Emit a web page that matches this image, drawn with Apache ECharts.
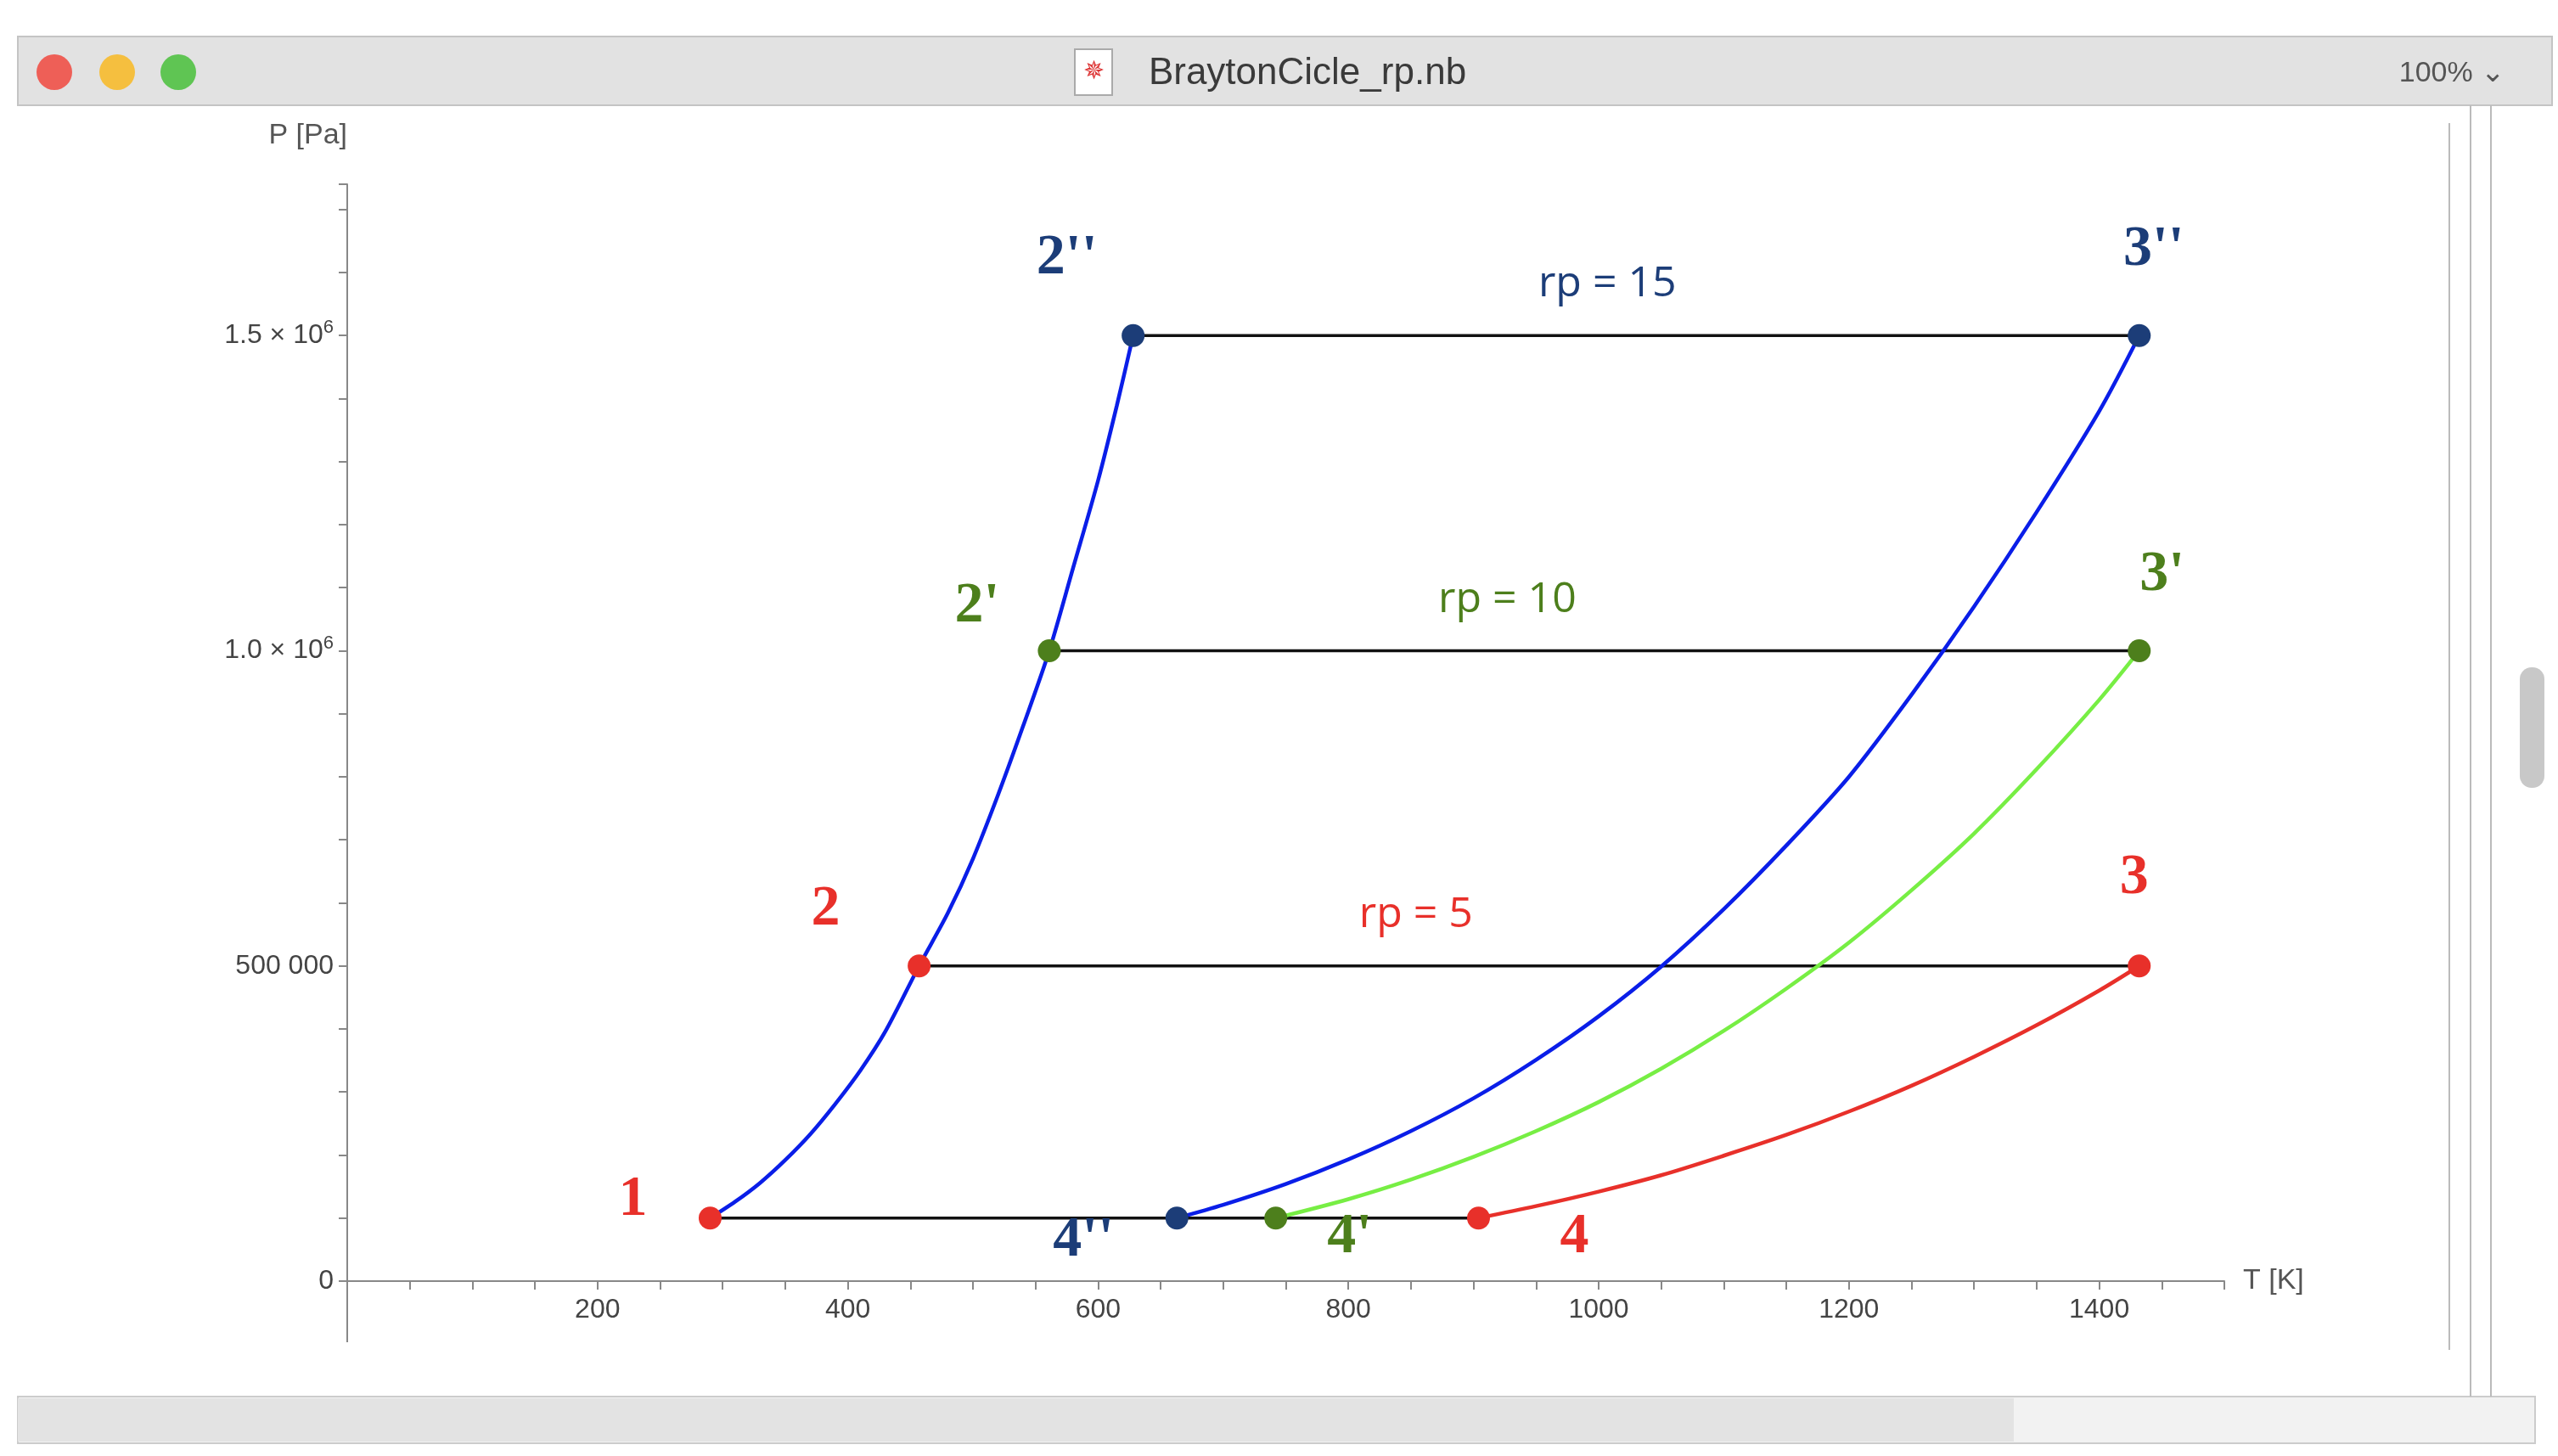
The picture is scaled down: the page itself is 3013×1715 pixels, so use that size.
<!DOCTYPE html>
<html><head><meta charset="utf-8">
<script src="https://cdn.jsdelivr.net/npm/echarts@6/dist/echarts.min.js"></script>
<style>html,body{margin:0;background:#fff}#c{width:3013px;height:1715px}</style>
</head><body><div id="c"></div>
<script>
// Cycle state points [T K, P Pa]
const pointNames = ['1','2',"2'","2''",'3',"3'","3''",'4',"4'","4''"];
const pointT = [290, 457, 561, 628, 1432, 1432, 1432, 904, 742, 663];
const pointP = [100000, 500000, 1000000, 1500000, 500000, 1000000, 1500000, 100000, 100000, 100000];
// Compression curve 1 -> 2''
const compT = [290, 310, 330, 350, 370, 390, 410, 430, 457, 480, 500, 520, 540, 561, 580, 600, 615, 628];
const compP = [100000, 126000, 156000, 192000, 233000, 281000, 334000, 396000, 500000, 584000, 670000, 771000, 880000, 1000000, 1131000, 1270000, 1389000, 1500000];
// Expansion curves
const exp15T = [663, 700, 750, 800, 850, 900, 950, 1000, 1050, 1100, 1150, 1200, 1250, 1300, 1350, 1400, 1432];
const exp15P = [100000, 121000, 154000, 193000, 238000, 290000, 351000, 420000, 499000, 590000, 691000, 800000, 930000, 1070000, 1220000, 1380000, 1500000];
const exp10T = [742, 800, 850, 900, 950, 1000, 1050, 1100, 1150, 1200, 1250, 1300, 1350, 1400, 1432];
const exp10P = [100000, 130000, 161000, 197000, 238000, 284000, 337000, 397000, 464000, 537000, 620000, 710000, 812000, 922000, 1000000];
const exp5T = [904, 950, 1000, 1050, 1100, 1150, 1200, 1250, 1300, 1350, 1400, 1432];
const exp5P = [100000, 119000, 142000, 168000, 199000, 232000, 269000, 310000, 356000, 406000, 461000, 500000];
// Isobars
const isoP = [100000, 500000, 1000000, 1500000];
const isoT0 = [290, 457, 561, 628];
const isoT1 = [904, 1432, 1432, 1432];
// rp labels
const rpText = ['rp = 5', 'rp = 10', 'rp = 15'];
const rpT = [854, 927, 1007];
const rpP = [500000, 1000000, 1500000];

const RED='#e8302a', NAVY='#1c3d78', GREEN='#4d7f1c';
const ptColor=[RED,RED,GREEN,NAVY,RED,GREEN,NAVY,RED,GREEN,NAVY];
const ptOff=[[-91,-21],[-110,-66],[-85,-52],[-78,-91],[-6,-103],[27,-89],[17,-101],[113,23],[87,23],[-110,27]];
const zip=(a,b)=>a.map((v,i)=>[v,b[i]]);

const series=[];
isoP.forEach((p,i)=>series.push({type:'line',data:[[isoT0[i],p],[isoT1[i],p]],symbol:'none',lineStyle:{color:'#111',width:3.5},z:2}));
const curve=(t,p,c)=>series.push({type:'line',smooth:0.3,data:zip(t,p),symbol:'none',lineStyle:{color:c,width:4.5}});
curve(compT,compP,'#0a1ee8');
curve(exp15T,exp15P,'#0a1ee8');
curve(exp10T,exp10P,'#77ee44');
curve(exp5T,exp5P,RED);
series.push({type:'scatter',symbolSize:27,z:5,data:pointT.map((t,i)=>({value:[t,pointP[i]],itemStyle:{color:ptColor[i],opacity:1},
  label:{show:true,formatter:pointNames[i],position:'inside',offset:ptOff[i],color:ptColor[i],fontFamily:'Liberation Serif',fontWeight:'bold',fontSize:68}}))});
const rpCol=[RED,GREEN,NAVY];
series.push({type:'scatter',symbolSize:0,data:rpT.map((t,i)=>({value:[t,rpP[i]],itemStyle:{opacity:1},
  label:{show:true,formatter:rpText[i],position:'inside',offset:[0,-60],color:rpCol[i],fontFamily:'Open Sans',fontSize:50}}))});

const chart=echarts.init(document.getElementById('c'));
chart.setOption({
  animation:false,
  grid:{left:409,right:393,top:217,bottom:206},
  xAxis:{type:'value',min:0,max:1500,interval:50,
    name:'T [K]',nameLocation:'end',nameGap:22,nameTextStyle:{fontSize:34,color:'#555',fontFamily:'Liberation Sans',verticalAlign:'middle'},
    axisLine:{lineStyle:{color:'#888',width:2}},
    axisTick:{length:10,lineStyle:{color:'#888',width:2}},
    splitLine:{show:false},
    axisLabel:{fontSize:32,color:'#444',fontFamily:'Liberation Sans',margin:18,
      formatter:v=>(v%200===0&&v>0&&v<1500)?String(v):''}},
  yAxis:{type:'value',min:0,max:1740000,interval:100000,
    name:'P [Pa]',nameLocation:'end',nameGap:40,nameTextStyle:{fontSize:34,color:'#555',fontFamily:'Liberation Sans',align:'right'},
    axisLine:{lineStyle:{color:'#888',width:2}},
    axisTick:{length:10,lineStyle:{color:'#888',width:2}},
    splitLine:{show:false},
    axisLabel:{fontSize:32,color:'#444',fontFamily:'Liberation Sans',margin:16,
      formatter:v=>v===0?'0':v===500000?'500 000':v===1000000?'1.0 × 10{s|6}':v===1500000?'1.5 × 10{s|6}':'',
      rich:{s:{fontSize:22,verticalAlign:'top',padding:[0,0,18,0],color:'#444'}}}},
  series,
  graphic:[
    {type:'line',shape:{x1:409,y1:1509,x2:409,y2:1581},style:{stroke:'#888',lineWidth:2},z:1},
    {type:'rect',shape:{x:21,y:43,width:2985,height:81},style:{fill:'#e2e2e2',stroke:'#c4c4c4',lineWidth:2},z:10},
    {type:'circle',shape:{cx:64,cy:85,r:21},style:{fill:'#ee5f57'},z:11},
    {type:'circle',shape:{cx:138,cy:85,r:21},style:{fill:'#f5bf3f'},z:11},
    {type:'circle',shape:{cx:210,cy:85,r:21},style:{fill:'#5fc553'},z:11},
    {type:'rect',shape:{x:1266,y:58,width:44,height:54},style:{fill:'#fff',stroke:'#aaa',lineWidth:2},z:11},
    {type:'text',style:{x:1288,y:85,text:'✵',fontSize:30,fill:'#d33',align:'center',verticalAlign:'middle'},z:12},
    {type:'text',style:{x:1540,y:87,text:'BraytonCicle_rp.nb',fontSize:44,fill:'#3a3a3a',fontFamily:'Liberation Sans',align:'center',verticalAlign:'middle'},z:11},
    {type:'text',style:{x:2888,y:87,text:'100% ⌄',fontSize:34,fill:'#555',fontFamily:'Liberation Sans',align:'center',verticalAlign:'middle'},z:11},
    {type:'rect',shape:{x:21,y:1645,width:2965,height:55},style:{fill:'#f2f2f2',stroke:'#ccc',lineWidth:2},z:10},
    {type:'rect',shape:{x:21,y:1647,width:2351,height:51},style:{fill:'#e3e3e3'},z:10},
    {type:'line',shape:{x1:2885,y1:145,x2:2885,y2:1590},style:{stroke:'#bbb',lineWidth:2},z:10},
    {type:'line',shape:{x1:2910,y1:124,x2:2910,y2:1645},style:{stroke:'#bbb',lineWidth:2},z:10},
    {type:'line',shape:{x1:2934,y1:124,x2:2934,y2:1645},style:{stroke:'#bbb',lineWidth:2},z:10},
    {type:'rect',shape:{x:2968,y:786,width:29,height:142,r:14},style:{fill:'#c8c8c8'},z:10}
  ]
});
</script></body></html>
